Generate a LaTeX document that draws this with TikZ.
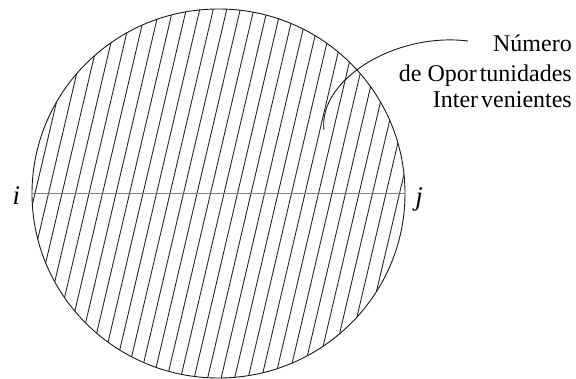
\documentclass[tikz,border=0pt]{standalone}
\usepackage{fontspec}
\setmainfont{Liberation Serif}
\begin{document}
\begin{tikzpicture}[x=1pt,y=-1pt,
  hatch/.style={line width=0.9pt, draw=black!85},
  rim/.style={line width=0.9pt, draw=black!90},
  diam/.style={line width=1.8pt, draw=black!50},
  lbl/.style={font=\fontsize{24}{28}\selectfont, inner sep=0pt},
  pt/.style={font=\fontsize{27}{30}\selectfont\itshape, inner sep=0pt},
  callout/.style={line width=0.9pt, draw=black!90}]
\useasboundingbox (0,0) rectangle (576,379);
\coordinate (c) at (218.5,193.5);
\begin{scope}
  \clip (c) ellipse [x radius=186.5pt, y radius=184.5pt];
  \foreach \k in {-16,...,16} {
    \draw[hatch] ({210.5+13.5*\k+0.235*200},-6.5) -- ({210.5+13.5*\k-0.235*200},393.5);
  }
\end{scope}
\draw[rim] (c) ellipse [x radius=186.5pt, y radius=184.5pt];
\coordinate (pi) at (32,193.5);
\coordinate (pj) at (405,193.5);
\draw[diam] (pi) -- (pj);
\node[pt, anchor=base] (i) at (16.5,205) {i};
\node[pt, anchor=base] (j) at (419,206) {j};
\node[lbl, anchor=base east] (l1) at (572,51.5) {Número};
\node[lbl, anchor=base east] (l2) at (572,82) {de Opor\kern3pt tunidades};
\node[lbl, anchor=base east] (l3) at (572,108) {Inter\kern3pt venientes};
\coordinate (cs) at (468,41);
\coordinate (ce) at (324,130);
\draw[callout] (cs) .. controls (395,32) and (318,80) .. (ce);
\end{tikzpicture}
\end{document}
